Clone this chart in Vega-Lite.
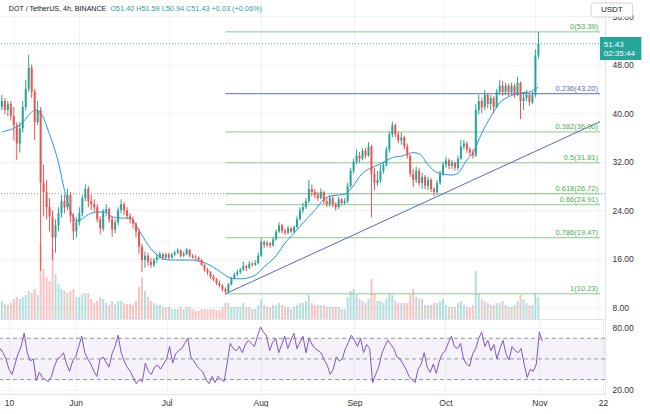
{
"$schema":"https://vega.github.io/schema/vega-lite/v6.json",
"padding":{"left":-6,"top":0,"right":0,"bottom":0},
"autosize":{"type":"pad"},
"background":"#ffffff",
"spacing":1,
"config":{"view":{"stroke":null},"font":"Liberation Sans","axis":{"labelFont":"Liberation Sans","labelFontSize":8.5,"labelColor":"#333333","ticks":false}},
"datasets":{
"c":[
{"d":"2021-05-06","o":41,"h":43,"l":40.5,"c":42,"v":18,"r":67},
{"d":"2021-05-07","o":42,"h":42.5,"l":39.8,"c":40.5,"v":15,"r":60},
{"d":"2021-05-08","o":40.5,"h":42,"l":39.5,"c":41.5,"v":14,"r":56},
{"d":"2021-05-09","o":41.5,"h":42,"l":38.8,"c":39.5,"v":16,"r":50},
{"d":"2021-05-10","o":39.5,"h":41,"l":35.5,"c":38,"v":20,"r":40},
{"d":"2021-05-11","o":38,"h":38.5,"l":32.3,"c":35,"v":22,"r":35},
{"d":"2021-05-12","o":35,"h":38.5,"l":33.5,"c":37.5,"v":20,"r":45},
{"d":"2021-05-13","o":37.5,"h":42,"l":36.8,"c":41,"v":22,"r":55},
{"d":"2021-05-14","o":41,"h":45.5,"l":40.5,"c":44,"v":24,"r":62},
{"d":"2021-05-15","o":44,"h":49.6,"l":43.5,"c":47.5,"v":28,"r":75},
{"d":"2021-05-16","o":47.5,"h":48,"l":42.5,"c":43.5,"v":26,"r":56},
{"d":"2021-05-17","o":43.5,"h":44,"l":35.6,"c":38.5,"v":30,"r":48},
{"d":"2021-05-18","o":38.5,"h":42,"l":38,"c":40.5,"v":24,"r":50},
{"d":"2021-05-19","o":40.5,"h":41,"l":14,"c":28.5,"v":75,"r":29},
{"d":"2021-05-20","o":28.5,"h":31.5,"l":23,"c":27,"v":50,"r":37},
{"d":"2021-05-21","o":27,"h":29,"l":22.5,"c":24.5,"v":42,"r":32},
{"d":"2021-05-22","o":24.5,"h":26,"l":20.5,"c":23,"v":38,"r":30},
{"d":"2021-05-23","o":23,"h":24,"l":15.8,"c":19.5,"v":70,"r":28},
{"d":"2021-05-24","o":19.5,"h":22.5,"l":17,"c":21.5,"v":45,"r":33},
{"d":"2021-05-25","o":21.5,"h":24.5,"l":20.5,"c":23.5,"v":35,"r":43},
{"d":"2021-05-26","o":23.5,"h":26.5,"l":22.8,"c":25.5,"v":30,"r":50},
{"d":"2021-05-27","o":25.5,"h":26.5,"l":23.5,"c":24.5,"v":28,"r":52},
{"d":"2021-05-28","o":24.5,"h":27.5,"l":24,"c":26.5,"v":26,"r":56},
{"d":"2021-05-29","o":26.5,"h":27,"l":22,"c":23,"v":28,"r":45},
{"d":"2021-05-30","o":23,"h":23.5,"l":19.1,"c":20.5,"v":30,"r":38},
{"d":"2021-05-31","o":20.5,"h":22.8,"l":19.5,"c":22,"v":22,"r":48},
{"d":"2021-06-01","o":22,"h":24.5,"l":21.5,"c":23.5,"v":22,"r":52},
{"d":"2021-06-02","o":23.5,"h":26.5,"l":23,"c":26,"v":25,"r":62},
{"d":"2021-06-03","o":26,"h":28.3,"l":25.5,"c":27.5,"v":26,"r":72},
{"d":"2021-06-04","o":27.5,"h":28,"l":24.5,"c":25.5,"v":26,"r":56},
{"d":"2021-06-05","o":25.5,"h":26.5,"l":24,"c":25,"v":20,"r":50},
{"d":"2021-06-06","o":25,"h":25.8,"l":23.8,"c":24.5,"v":16,"r":45},
{"d":"2021-06-07","o":24.5,"h":25,"l":22,"c":22.5,"v":18,"r":38},
{"d":"2021-06-08","o":22.5,"h":23,"l":20,"c":21,"v":22,"r":33},
{"d":"2021-06-09","o":21,"h":24.2,"l":20.5,"c":23.8,"v":20,"r":49},
{"d":"2021-06-10","o":23.8,"h":25,"l":23,"c":24.2,"v":16,"r":52},
{"d":"2021-06-11","o":24.2,"h":24.5,"l":22,"c":22.5,"v":14,"r":47},
{"d":"2021-06-12","o":22.5,"h":23,"l":19.6,"c":20.8,"v":18,"r":42},
{"d":"2021-06-13","o":20.8,"h":22.5,"l":20.2,"c":22,"v":15,"r":55},
{"d":"2021-06-14","o":22,"h":24.5,"l":21.5,"c":24,"v":18,"r":62},
{"d":"2021-06-15","o":24,"h":25.8,"l":23.5,"c":25,"v":18,"r":73},
{"d":"2021-06-16","o":25,"h":25.3,"l":23.2,"c":24,"v":16,"r":56},
{"d":"2021-06-17","o":24,"h":24.5,"l":22.5,"c":23,"v":15,"r":48},
{"d":"2021-06-18","o":23,"h":23.5,"l":21.8,"c":22.5,"v":15,"r":42},
{"d":"2021-06-19","o":22.5,"h":23,"l":21,"c":21.8,"v":14,"r":38},
{"d":"2021-06-20","o":21.8,"h":22,"l":19.5,"c":20.5,"v":18,"r":32},
{"d":"2021-06-21","o":20.5,"h":21,"l":16.8,"c":18,"v":32,"r":26},
{"d":"2021-06-22","o":18,"h":18.5,"l":13.8,"c":15.8,"v":42,"r":30},
{"d":"2021-06-23","o":15.8,"h":17.2,"l":14.5,"c":16.5,"v":28,"r":28},
{"d":"2021-06-24","o":16.5,"h":17,"l":14.8,"c":15.5,"v":22,"r":46},
{"d":"2021-06-25","o":15.5,"h":16.2,"l":14.5,"c":15,"v":18,"r":38},
{"d":"2021-06-26","o":15,"h":16.2,"l":14.6,"c":15.8,"v":16,"r":35},
{"d":"2021-06-27","o":15.8,"h":16.8,"l":15.3,"c":16.3,"v":14,"r":42},
{"d":"2021-06-28","o":16.3,"h":17.2,"l":16,"c":16.8,"v":14,"r":44},
{"d":"2021-06-29","o":16.8,"h":17,"l":15.8,"c":16.2,"v":12,"r":40},
{"d":"2021-06-30","o":16.2,"h":17,"l":15.8,"c":16.7,"v":12,"r":45},
{"d":"2021-07-01","o":16.7,"h":17,"l":15.8,"c":16.2,"v":12,"r":50},
{"d":"2021-07-02","o":16.2,"h":17,"l":16,"c":16.7,"v":10,"r":62},
{"d":"2021-07-03","o":16.7,"h":17.4,"l":16.4,"c":17,"v":10,"r":46},
{"d":"2021-07-04","o":17,"h":17.8,"l":16.8,"c":17.4,"v":10,"r":55},
{"d":"2021-07-05","o":17.4,"h":17.6,"l":16.2,"c":16.5,"v":12,"r":58},
{"d":"2021-07-06","o":16.5,"h":17.2,"l":16.3,"c":16.8,"v":10,"r":60},
{"d":"2021-07-07","o":16.8,"h":17.8,"l":16.6,"c":17.5,"v":12,"r":65},
{"d":"2021-07-08","o":17.5,"h":17.6,"l":16.2,"c":16.5,"v":12,"r":70},
{"d":"2021-07-09","o":16.5,"h":16.8,"l":16,"c":16.3,"v":10,"r":52},
{"d":"2021-07-10","o":16.3,"h":16.6,"l":15.8,"c":16.2,"v":8,"r":48},
{"d":"2021-07-11","o":16.2,"h":16.4,"l":15.5,"c":15.8,"v":8,"r":43},
{"d":"2021-07-12","o":15.8,"h":16,"l":14.8,"c":15,"v":10,"r":40},
{"d":"2021-07-13","o":15,"h":15.2,"l":13.9,"c":14.2,"v":10,"r":37},
{"d":"2021-07-14","o":14.2,"h":14.5,"l":13.3,"c":13.8,"v":10,"r":30},
{"d":"2021-07-15","o":13.8,"h":14,"l":12.7,"c":13,"v":10,"r":26},
{"d":"2021-07-16","o":13,"h":13.4,"l":12.3,"c":12.6,"v":10,"r":33},
{"d":"2021-07-17","o":12.6,"h":12.8,"l":11.7,"c":12,"v":9,"r":27},
{"d":"2021-07-18","o":12,"h":12.4,"l":11.3,"c":11.6,"v":9,"r":33},
{"d":"2021-07-19","o":11.6,"h":11.8,"l":10.7,"c":11,"v":12,"r":30},
{"d":"2021-07-20","o":11,"h":11.3,"l":10.23,"c":10.6,"v":16,"r":28},
{"d":"2021-07-21","o":10.6,"h":12,"l":10.4,"c":11.8,"v":16,"r":46},
{"d":"2021-07-22","o":11.8,"h":13,"l":11.6,"c":12.8,"v":12,"r":65},
{"d":"2021-07-23","o":12.8,"h":13.7,"l":12.6,"c":13.4,"v":12,"r":60},
{"d":"2021-07-24","o":13.4,"h":14.2,"l":13.2,"c":13.8,"v":12,"r":58},
{"d":"2021-07-25","o":13.8,"h":14.5,"l":13.5,"c":14.2,"v":12,"r":62},
{"d":"2021-07-26","o":14.2,"h":15.5,"l":14,"c":14.8,"v":16,"r":56},
{"d":"2021-07-27","o":14.8,"h":15,"l":14,"c":14.5,"v":12,"r":64},
{"d":"2021-07-28","o":14.5,"h":15.6,"l":14.3,"c":15.2,"v":12,"r":68},
{"d":"2021-07-29","o":15.2,"h":15.5,"l":14.7,"c":15,"v":10,"r":65},
{"d":"2021-07-30","o":15,"h":15.8,"l":14.8,"c":15.3,"v":10,"r":62},
{"d":"2021-07-31","o":15.3,"h":17,"l":15.1,"c":16.5,"v":14,"r":72},
{"d":"2021-08-01","o":16.5,"h":19.4,"l":16.3,"c":18.8,"v":20,"r":81},
{"d":"2021-08-02","o":18.8,"h":19,"l":17.8,"c":18.3,"v":14,"r":76},
{"d":"2021-08-03","o":18.3,"h":19,"l":17.9,"c":18.6,"v":12,"r":72},
{"d":"2021-08-04","o":18.6,"h":18.8,"l":17.8,"c":18.2,"v":12,"r":58},
{"d":"2021-08-05","o":18.2,"h":19.6,"l":18,"c":19.2,"v":14,"r":66},
{"d":"2021-08-06","o":19.2,"h":20.8,"l":19,"c":20.5,"v":14,"r":70},
{"d":"2021-08-07","o":20.5,"h":22,"l":20.2,"c":21.5,"v":16,"r":56},
{"d":"2021-08-08","o":21.5,"h":21.8,"l":20.2,"c":20.6,"v":14,"r":64},
{"d":"2021-08-09","o":20.6,"h":21,"l":19.9,"c":20.3,"v":12,"r":72},
{"d":"2021-08-10","o":20.3,"h":21.4,"l":20,"c":21,"v":12,"r":60},
{"d":"2021-08-11","o":21,"h":21.3,"l":20.2,"c":20.5,"v":10,"r":68},
{"d":"2021-08-12","o":20.5,"h":21.5,"l":20.2,"c":21.2,"v":12,"r":75},
{"d":"2021-08-13","o":21.2,"h":23,"l":21,"c":22.5,"v":14,"r":60},
{"d":"2021-08-14","o":22.5,"h":24.5,"l":22.3,"c":24,"v":16,"r":66},
{"d":"2021-08-15","o":24,"h":25.2,"l":23.5,"c":24.5,"v":16,"r":72},
{"d":"2021-08-16","o":24.5,"h":26,"l":24.2,"c":25.5,"v":18,"r":56},
{"d":"2021-08-17","o":25.5,"h":29,"l":25.2,"c":27.5,"v":24,"r":70},
{"d":"2021-08-18","o":27.5,"h":28.2,"l":26.3,"c":27,"v":16,"r":64},
{"d":"2021-08-19","o":27,"h":27.5,"l":26,"c":26.5,"v":14,"r":60},
{"d":"2021-08-20","o":26.5,"h":27,"l":25.5,"c":26,"v":14,"r":58},
{"d":"2021-08-21","o":26,"h":27.6,"l":25.8,"c":27,"v":14,"r":56},
{"d":"2021-08-22","o":27,"h":27.2,"l":25,"c":25.5,"v":14,"r":49},
{"d":"2021-08-23","o":25.5,"h":26,"l":24.5,"c":25,"v":12,"r":44},
{"d":"2021-08-24","o":25,"h":26.5,"l":24.6,"c":26,"v":12,"r":35},
{"d":"2021-08-25","o":26,"h":26.3,"l":24.5,"c":25,"v":12,"r":40},
{"d":"2021-08-26","o":25,"h":25.3,"l":24,"c":24.5,"v":12,"r":52},
{"d":"2021-08-27","o":24.5,"h":26.2,"l":24.2,"c":25.8,"v":12,"r":48},
{"d":"2021-08-28","o":25.8,"h":26,"l":24.8,"c":25.2,"v":10,"r":50},
{"d":"2021-08-29","o":25.2,"h":26,"l":24.9,"c":25.5,"v":10,"r":60},
{"d":"2021-08-30","o":25.5,"h":28.5,"l":25.2,"c":28,"v":22,"r":66},
{"d":"2021-08-31","o":28,"h":31,"l":27.8,"c":30.5,"v":28,"r":73},
{"d":"2021-09-01","o":30.5,"h":32.5,"l":30,"c":32,"v":30,"r":68},
{"d":"2021-09-02","o":32,"h":34,"l":31.6,"c":33,"v":24,"r":62},
{"d":"2021-09-03","o":33,"h":33.6,"l":31.8,"c":32.5,"v":20,"r":70},
{"d":"2021-09-04","o":32.5,"h":34.2,"l":32.2,"c":33.8,"v":18,"r":56},
{"d":"2021-09-05","o":33.8,"h":34.3,"l":32.5,"c":33,"v":16,"r":64},
{"d":"2021-09-06","o":33,"h":35.2,"l":32.8,"c":34.5,"v":20,"r":60},
{"d":"2021-09-07","o":34.5,"h":34.8,"l":22.8,"c":30,"v":40,"r":27},
{"d":"2021-09-08","o":30,"h":31,"l":27.3,"c":28.5,"v":26,"r":35},
{"d":"2021-09-09","o":28.5,"h":30.5,"l":28,"c":29,"v":18,"r":42},
{"d":"2021-09-10","o":29,"h":31.5,"l":28.5,"c":30.5,"v":18,"r":55},
{"d":"2021-09-11","o":30.5,"h":32,"l":30,"c":31.5,"v":16,"r":62},
{"d":"2021-09-12","o":31.5,"h":34.5,"l":31.2,"c":34,"v":20,"r":68},
{"d":"2021-09-13","o":34,"h":37,"l":33.5,"c":36.5,"v":26,"r":64},
{"d":"2021-09-14","o":36.5,"h":38.6,"l":36,"c":38,"v":24,"r":60},
{"d":"2021-09-15","o":38,"h":38.3,"l":36,"c":36.5,"v":18,"r":52},
{"d":"2021-09-16","o":36.5,"h":37,"l":35,"c":35.5,"v":16,"r":50},
{"d":"2021-09-17","o":35.5,"h":36.8,"l":34.8,"c":36,"v":16,"r":45},
{"d":"2021-09-18","o":36,"h":36.3,"l":34,"c":34.5,"v":16,"r":40},
{"d":"2021-09-19","o":34.5,"h":35,"l":32.5,"c":33,"v":16,"r":33},
{"d":"2021-09-20","o":33,"h":33.2,"l":29.5,"c":30,"v":24,"r":30},
{"d":"2021-09-21","o":30,"h":30.8,"l":27.8,"c":29,"v":30,"r":27},
{"d":"2021-09-22","o":29,"h":31.2,"l":28.5,"c":30.5,"v":22,"r":40},
{"d":"2021-09-23","o":30.5,"h":31,"l":28,"c":28.5,"v":20,"r":45},
{"d":"2021-09-24","o":28.5,"h":30.2,"l":27.5,"c":29.5,"v":20,"r":56},
{"d":"2021-09-25","o":29.5,"h":29.8,"l":27.5,"c":28,"v":14,"r":42},
{"d":"2021-09-26","o":28,"h":29.5,"l":27.3,"c":29,"v":14,"r":37},
{"d":"2021-09-27","o":29,"h":29.3,"l":27,"c":27.5,"v":14,"r":45},
{"d":"2021-09-28","o":27.5,"h":27.8,"l":26.3,"c":27,"v":16,"r":36},
{"d":"2021-09-29","o":27,"h":29,"l":26.6,"c":28.5,"v":16,"r":48},
{"d":"2021-09-30","o":28.5,"h":30.5,"l":28.2,"c":30,"v":18,"r":55},
{"d":"2021-10-01","o":30,"h":32,"l":29.7,"c":31.5,"v":20,"r":58},
{"d":"2021-10-02","o":31.5,"h":32.8,"l":31,"c":32.2,"v":14,"r":66},
{"d":"2021-10-03","o":32.2,"h":32.5,"l":30.8,"c":31.3,"v":12,"r":72},
{"d":"2021-10-04","o":31.3,"h":32.3,"l":30.8,"c":31.8,"v":12,"r":62},
{"d":"2021-10-05","o":31.8,"h":32,"l":30.5,"c":31,"v":12,"r":60},
{"d":"2021-10-06","o":31,"h":33,"l":30.6,"c":32.5,"v":16,"r":65},
{"d":"2021-10-07","o":32.5,"h":35.6,"l":32.3,"c":34.5,"v":18,"r":50},
{"d":"2021-10-08","o":34.5,"h":35.6,"l":34,"c":35,"v":14,"r":45},
{"d":"2021-10-09","o":35,"h":35.3,"l":33.5,"c":34,"v":12,"r":43},
{"d":"2021-10-10","o":34,"h":34.4,"l":33,"c":33.5,"v":12,"r":55},
{"d":"2021-10-11","o":33.5,"h":34,"l":32.5,"c":33,"v":14,"r":60},
{"d":"2021-10-12","o":33,"h":41.5,"l":32.8,"c":40.5,"v":48,"r":70},
{"d":"2021-10-13","o":40.5,"h":43,"l":39.8,"c":42,"v":26,"r":76},
{"d":"2021-10-14","o":42,"h":42.5,"l":40,"c":41,"v":20,"r":62},
{"d":"2021-10-15","o":41,"h":43.8,"l":40.5,"c":43,"v":18,"r":68},
{"d":"2021-10-16","o":43,"h":43.3,"l":40.8,"c":41.5,"v":16,"r":58},
{"d":"2021-10-17","o":41.5,"h":43,"l":40.5,"c":42.5,"v":14,"r":64},
{"d":"2021-10-18","o":42.5,"h":42.8,"l":40,"c":41,"v":14,"r":50},
{"d":"2021-10-19","o":41,"h":44,"l":40.8,"c":43.5,"v":16,"r":60},
{"d":"2021-10-20","o":43.5,"h":45.5,"l":43,"c":44.5,"v":16,"r":68},
{"d":"2021-10-21","o":44.5,"h":45.3,"l":42.8,"c":43.5,"v":18,"r":55},
{"d":"2021-10-22","o":43.5,"h":45,"l":43,"c":44.5,"v":14,"r":49},
{"d":"2021-10-23","o":44.5,"h":44.8,"l":42.8,"c":43.5,"v":12,"r":62},
{"d":"2021-10-24","o":43.5,"h":45,"l":43,"c":44.5,"v":12,"r":58},
{"d":"2021-10-25","o":44.5,"h":44.8,"l":42.5,"c":43,"v":14,"r":56},
{"d":"2021-10-26","o":43,"h":46,"l":42.8,"c":45,"v":18,"r":60},
{"d":"2021-10-27","o":45,"h":45.2,"l":39,"c":42,"v":24,"r":45},
{"d":"2021-10-28","o":42,"h":43.5,"l":40.5,"c":42.5,"v":20,"r":32},
{"d":"2021-10-29","o":42.5,"h":43.8,"l":42,"c":43,"v":16,"r":40},
{"d":"2021-10-30","o":43,"h":43.3,"l":41.2,"c":41.8,"v":14,"r":38},
{"d":"2021-10-31","o":41.8,"h":43.5,"l":41.5,"c":43,"v":14,"r":45},
{"d":"2021-11-01","o":43,"h":50.5,"l":42.6,"c":49.5,"v":26,"r":76},
{"d":"2021-11-02","o":49.5,"h":53.39,"l":49,"c":51.43,"v":22,"r":67}
],
"ma":[
{"d":"2021-05-06","m":36.9},{"d":"2021-05-13","m":38.5},{"d":"2021-05-16","m":40.2},{"d":"2021-05-17","m":40.5},{"d":"2021-05-19","m":40.0},{"d":"2021-05-22","m":36.5},{"d":"2021-05-25","m":31.8},{"d":"2021-05-27","m":27.3},{"d":"2021-05-29","m":24.0},{"d":"2021-05-31","m":22.2},{"d":"2021-06-02","m":22.6},{"d":"2021-06-04","m":23.3},{"d":"2021-06-07","m":23.7},{"d":"2021-06-10","m":23.7},{"d":"2021-06-12","m":22.9},{"d":"2021-06-16","m":22.7},{"d":"2021-06-18","m":22.7},{"d":"2021-06-21","m":20.7},{"d":"2021-06-24","m":18.3},{"d":"2021-06-28","m":16.3},{"d":"2021-07-01","m":15.8},{"d":"2021-07-08","m":15.8},{"d":"2021-07-12","m":15.5},{"d":"2021-07-17","m":14.3},{"d":"2021-07-19","m":13.6},{"d":"2021-07-22","m":12.8},{"d":"2021-07-25","m":12.7},{"d":"2021-07-30","m":13.3},{"d":"2021-08-02","m":14.7},{"d":"2021-08-06","m":16.5},{"d":"2021-08-09","m":18.6},{"d":"2021-08-12","m":20.2},{"d":"2021-08-15","m":21.9},{"d":"2021-08-19","m":24.0},{"d":"2021-08-22","m":25.8},{"d":"2021-08-25","m":26.4},{"d":"2021-08-29","m":26.6},{"d":"2021-08-31","m":27.5},{"d":"2021-09-04","m":30.1},{"d":"2021-09-08","m":31.2},{"d":"2021-09-11","m":31.9},{"d":"2021-09-15","m":32.8},{"d":"2021-09-17","m":32.9},{"d":"2021-09-21","m":33.5},{"d":"2021-09-23","m":33.3},{"d":"2021-09-26","m":31.5},{"d":"2021-09-29","m":30.2},{"d":"2021-10-04","m":29.8},{"d":"2021-10-06","m":30.1},{"d":"2021-10-09","m":32.3},{"d":"2021-10-11","m":33.4},{"d":"2021-10-14","m":36.7},{"d":"2021-10-17","m":39.4},{"d":"2021-10-20","m":41.7},{"d":"2021-10-23","m":42.7},{"d":"2021-10-27","m":43.3},{"d":"2021-10-30","m":43.5},{"d":"2021-11-02","m":44.3}
],
"fib":[
{"k":"0","p":53.39,"t":"0(53.39)"},{"k":"0.236","p":43.2,"t":"0.236(43.20)"},{"k":"0.382","p":36.9,"t":"0.382(36.90)"},{"k":"0.5","p":31.81,"t":"0.5(31.81)"},{"k":"0.618","p":26.72,"t":"0.618(26.72)"},{"k":"0.66","p":24.91,"t":"0.66(24.91)"},{"k":"0.786","p":19.47,"t":"0.786(19.47)"},{"k":"1","p":10.23,"t":"1(10.23)"}
],
"tr":[{"d":"2021-07-20","p":10.23},{"d":"2021-11-22T16:00:00Z","p":38.6}],
"lv":[{"lv":30},{"lv":50},{"lv":70}]
},
"vconcat":[
{
"width":608,"height":319,
"resolve":{"scale":{"y":"independent"}},
"layer":[
{"data":{"name":"c"},"mark":{"type":"bar","size":2,"opacity":0.35},
"encoding":{
"x":{"field":"d","type":"temporal","title":null,"scale":{"type":"utc","domain":[{"year":2021,"month":5,"date":6,"hours":1,"utc":true},{"year":2021,"month":11,"date":22,"hours":16,"utc":true}]},
"axis":{"values":[{"year":2021,"month":5,"date":10,"utc":true},{"year":2021,"month":6,"date":1,"utc":true},{"year":2021,"month":7,"date":1,"utc":true},{"year":2021,"month":8,"date":1,"utc":true},{"year":2021,"month":9,"date":1,"utc":true},{"year":2021,"month":10,"date":1,"utc":true},{"year":2021,"month":11,"date":1,"utc":true},{"year":2021,"month":11,"date":22,"utc":true}],"labels":false,"grid":true,"gridColor":"#f0f3fa","domain":true,"domainColor":"#e0e3eb","ticks":false}},
"y":{"field":"v","type":"quantitative","scale":{"domain":[0,319]},"axis":null},
"color":{"condition":{"test":"datum.c >= datum.o","value":"#26a69a"},"value":"#ef5350"}}},
{"layer":[
{"data":{"values":[{}]},"mark":{"type":"rule","color":"#9598a1","strokeDash":[1,2],"strokeWidth":1},
"encoding":{"y":{"datum":26.72,"type":"quantitative","title":null,"scale":{"domain":[6.08,58.64]},"axis":{"orient":"right","values":[8,12,16,20,24,28,32,36,40,44,48,52,56],"format":".2f","grid":true,"gridColor":"#f0f3fa","domain":true,"domainColor":"#e0e3eb","labelPadding":7,"ticks":false}}}},
{"data":{"values":[{}]},"mark":{"type":"rule","color":"#26a69a","strokeDash":[1,2],"strokeWidth":1,"opacity":0.8},
"encoding":{"y":{"datum":51.43,"type":"quantitative","title":null,"scale":{"domain":[6.08,58.64]}}}},
{"data":{"name":"fib"},"mark":{"type":"rule","strokeWidth":1},
"encoding":{
"x":{"datum":{"year":2021,"month":7,"date":20,"utc":true},"type":"temporal","title":null,"scale":{"type":"utc","domain":[{"year":2021,"month":5,"date":6,"hours":1,"utc":true},{"year":2021,"month":11,"date":22,"hours":16,"utc":true}]}},
"x2":{"datum":{"year":2021,"month":11,"date":22,"hours":16,"utc":true}},
"y":{"field":"p","type":"quantitative","title":null,"scale":{"domain":[6.08,58.64]}},
"color":{"condition":{"test":"datum.k == '0.236'","value":"#5c6bc0"},"value":"#8bc98b"}}},
{"data":{"name":"tr"},"mark":{"type":"line","color":"#5567c7","strokeWidth":1},
"encoding":{
"x":{"field":"d","type":"temporal","title":null,"scale":{"type":"utc","domain":[{"year":2021,"month":5,"date":6,"hours":1,"utc":true},{"year":2021,"month":11,"date":22,"hours":16,"utc":true}]}},
"y":{"field":"p","type":"quantitative","title":null,"scale":{"domain":[6.08,58.64]}}}},
{"data":{"name":"ma"},"mark":{"type":"line","color":"#2196f3","strokeWidth":1,"interpolate":"monotone"},
"encoding":{
"x":{"field":"d","type":"temporal","title":null,"scale":{"type":"utc","domain":[{"year":2021,"month":5,"date":6,"hours":1,"utc":true},{"year":2021,"month":11,"date":22,"hours":16,"utc":true}]}},
"y":{"field":"m","type":"quantitative","title":null,"scale":{"domain":[6.08,58.64]}}}},
{"data":{"name":"c"},"mark":{"type":"rule","strokeWidth":1},
"encoding":{
"x":{"field":"d","type":"temporal","title":null,"scale":{"type":"utc","domain":[{"year":2021,"month":5,"date":6,"hours":1,"utc":true},{"year":2021,"month":11,"date":22,"hours":16,"utc":true}]}},
"y":{"field":"l","type":"quantitative","title":null,"scale":{"domain":[6.08,58.64]}},
"y2":{"field":"h"},
"color":{"condition":{"test":"datum.c >= datum.o","value":"#26a69a"},"value":"#ef5350"}}},
{"data":{"name":"c"},"mark":{"type":"bar","size":2},
"encoding":{
"x":{"field":"d","type":"temporal","title":null,"scale":{"type":"utc","domain":[{"year":2021,"month":5,"date":6,"hours":1,"utc":true},{"year":2021,"month":11,"date":22,"hours":16,"utc":true}]}},
"y":{"field":"o","type":"quantitative","title":null,"scale":{"domain":[6.08,58.64]}},
"y2":{"field":"c"},
"color":{"condition":{"test":"datum.c >= datum.o","value":"#26a69a"},"value":"#ef5350"}}},
{"data":{"name":"fib"},"mark":{"type":"text","align":"right","baseline":"bottom","dx":-2,"dy":-1,"fontSize":7.5,"font":"Liberation Sans"},
"encoding":{
"x":{"datum":{"year":2021,"month":11,"date":22,"hours":16,"utc":true},"type":"temporal","title":null,"scale":{"type":"utc","domain":[{"year":2021,"month":5,"date":6,"hours":1,"utc":true},{"year":2021,"month":11,"date":22,"hours":16,"utc":true}]}},
"y":{"field":"p","type":"quantitative","title":null,"scale":{"domain":[6.08,58.64]}},
"text":{"field":"t"},
"color":{"condition":{"test":"datum.k == '0.236'","value":"#5c6bc0"},"value":"#4caf50"}}},
{"data":{"values":[{}]},"mark":{"type":"text","align":"left","baseline":"middle","fontSize":7.1,"color":"#131722","font":"Liberation Sans"},
"encoding":{
"x":{"datum":{"year":2021,"month":5,"date":8,"hours":8,"utc":true},"type":"temporal","title":null,"scale":{"type":"utc","domain":[{"year":2021,"month":5,"date":6,"hours":1,"utc":true},{"year":2021,"month":11,"date":22,"hours":16,"utc":true}]}},
"y":{"datum":57.15,"type":"quantitative","title":null,"scale":{"domain":[6.08,58.64]}},
"text":{"value":"DOT / TetherUS, 4h, BINANCE"}}},
{"data":{"values":[{}]},"mark":{"type":"text","align":"left","baseline":"middle","fontSize":7.3,"color":"#26a69a","font":"Liberation Sans"},
"encoding":{
"x":{"datum":{"year":2021,"month":6,"date":11,"hours":8,"utc":true},"type":"temporal","title":null,"scale":{"type":"utc","domain":[{"year":2021,"month":5,"date":6,"hours":1,"utc":true},{"year":2021,"month":11,"date":22,"hours":16,"utc":true}]}},
"y":{"datum":57.15,"type":"quantitative","title":null,"scale":{"domain":[6.08,58.64]}},
"text":{"value":"O51.40 H51.59 L50.94 C51.43 +0.03 (+0.06%)"}}},
{"data":{"values":[{}]},"mark":{"type":"rect","fill":"#ffffff","stroke":"#d1d4dc","strokeWidth":1,"cornerRadius":2},
"encoding":{
"x":{"datum":{"year":2021,"month":11,"date":19,"hours":17,"utc":true},"type":"temporal","title":null,"scale":{"type":"utc","domain":[{"year":2021,"month":5,"date":6,"hours":1,"utc":true},{"year":2021,"month":11,"date":22,"hours":16,"utc":true}]}},
"x2":{"datum":{"year":2021,"month":12,"date":3,"hours":13,"utc":true}},
"y":{"datum":58.14,"type":"quantitative","title":null,"scale":{"domain":[6.08,58.64]}},
"y2":{"datum":55.84}}},
{"data":{"values":[{}]},"mark":{"type":"text","align":"center","baseline":"middle","fontSize":8,"color":"#131722","font":"Liberation Sans"},
"encoding":{
"x":{"datum":{"year":2021,"month":11,"date":26,"hours":15,"utc":true},"type":"temporal","title":null,"scale":{"type":"utc","domain":[{"year":2021,"month":5,"date":6,"hours":1,"utc":true},{"year":2021,"month":11,"date":22,"hours":16,"utc":true}]}},
"y":{"datum":57.0,"type":"quantitative","title":null,"scale":{"domain":[6.08,58.64]}},
"text":{"value":"USDT"}}},
{"data":{"values":[{}]},"mark":{"type":"rect","fill":"#26a69a"},
"encoding":{
"x":{"datum":{"year":2021,"month":11,"date":22,"hours":16,"utc":true},"type":"temporal","title":null,"scale":{"type":"utc","domain":[{"year":2021,"month":5,"date":6,"hours":1,"utc":true},{"year":2021,"month":11,"date":22,"hours":16,"utc":true}]}},
"x2":{"datum":{"year":2021,"month":12,"date":6,"hours":13,"utc":true}},
"y":{"datum":52.54,"type":"quantitative","title":null,"scale":{"domain":[6.08,58.64]}},
"y2":{"datum":48.75}}},
{"data":{"values":[{"t":"51.43","p":51.2},{"t":"02:35:44","p":49.75}]},"mark":{"type":"text","align":"left","baseline":"middle","fontSize":8,"color":"#ffffff","font":"Liberation Sans"},
"encoding":{
"x":{"datum":{"year":2021,"month":11,"date":23,"hours":22,"utc":true},"type":"temporal","title":null,"scale":{"type":"utc","domain":[{"year":2021,"month":5,"date":6,"hours":1,"utc":true},{"year":2021,"month":11,"date":22,"hours":16,"utc":true}]}},
"y":{"field":"p","type":"quantitative","title":null,"scale":{"domain":[6.08,58.64]}},
"text":{"field":"t"}}}
]}
]
},
{
"width":608,"height":74,
"layer":[
{"data":{"values":[{}]},"mark":{"type":"rect","fill":"#7e57c2","opacity":0.08},
"encoding":{
"x":{"datum":{"year":2021,"month":5,"date":6,"hours":1,"utc":true},"type":"temporal","title":null,"scale":{"type":"utc","domain":[{"year":2021,"month":5,"date":6,"hours":1,"utc":true},{"year":2021,"month":11,"date":22,"hours":16,"utc":true}]},
"axis":{"values":[{"year":2021,"month":5,"date":10,"utc":true},{"year":2021,"month":6,"date":1,"utc":true},{"year":2021,"month":7,"date":1,"utc":true},{"year":2021,"month":8,"date":1,"utc":true},{"year":2021,"month":9,"date":1,"utc":true},{"year":2021,"month":10,"date":1,"utc":true},{"year":2021,"month":11,"date":1,"utc":true},{"year":2021,"month":11,"date":22,"utc":true}],"labelExpr":"utcdate(datum.value) == 1 ? utcFormat(datum.value, '%b') : utcFormat(datum.value, '%d')","grid":true,"gridColor":"#f0f3fa","domain":true,"domainColor":"#e0e3eb","ticks":false,"labelPadding":4}},
"x2":{"datum":{"year":2021,"month":11,"date":22,"hours":16,"utc":true}},
"y":{"datum":70,"type":"quantitative","title":null,"scale":{"domain":[16,87.7]},"axis":{"orient":"right","values":[20,40,60,80],"format":".2f","grid":true,"gridColor":"#f0f3fa","domain":true,"domainColor":"#e0e3eb","labelPadding":7,"ticks":false}},
"y2":{"datum":30}}},
{"data":{"name":"lv"},"mark":{"type":"rule","color":"#9598a1","strokeDash":[4,3],"strokeWidth":1},
"encoding":{"y":{"field":"lv","type":"quantitative","title":null,"scale":{"domain":[16,87.7]}}}},
{"data":{"name":"c"},"mark":{"type":"line","color":"#7e57c2","strokeWidth":1},
"encoding":{
"x":{"field":"d","type":"temporal","title":null,"scale":{"type":"utc","domain":[{"year":2021,"month":5,"date":6,"hours":1,"utc":true},{"year":2021,"month":11,"date":22,"hours":16,"utc":true}]}},
"y":{"field":"r","type":"quantitative","title":null,"scale":{"domain":[16,87.7]}}}}
]
}
]
}
